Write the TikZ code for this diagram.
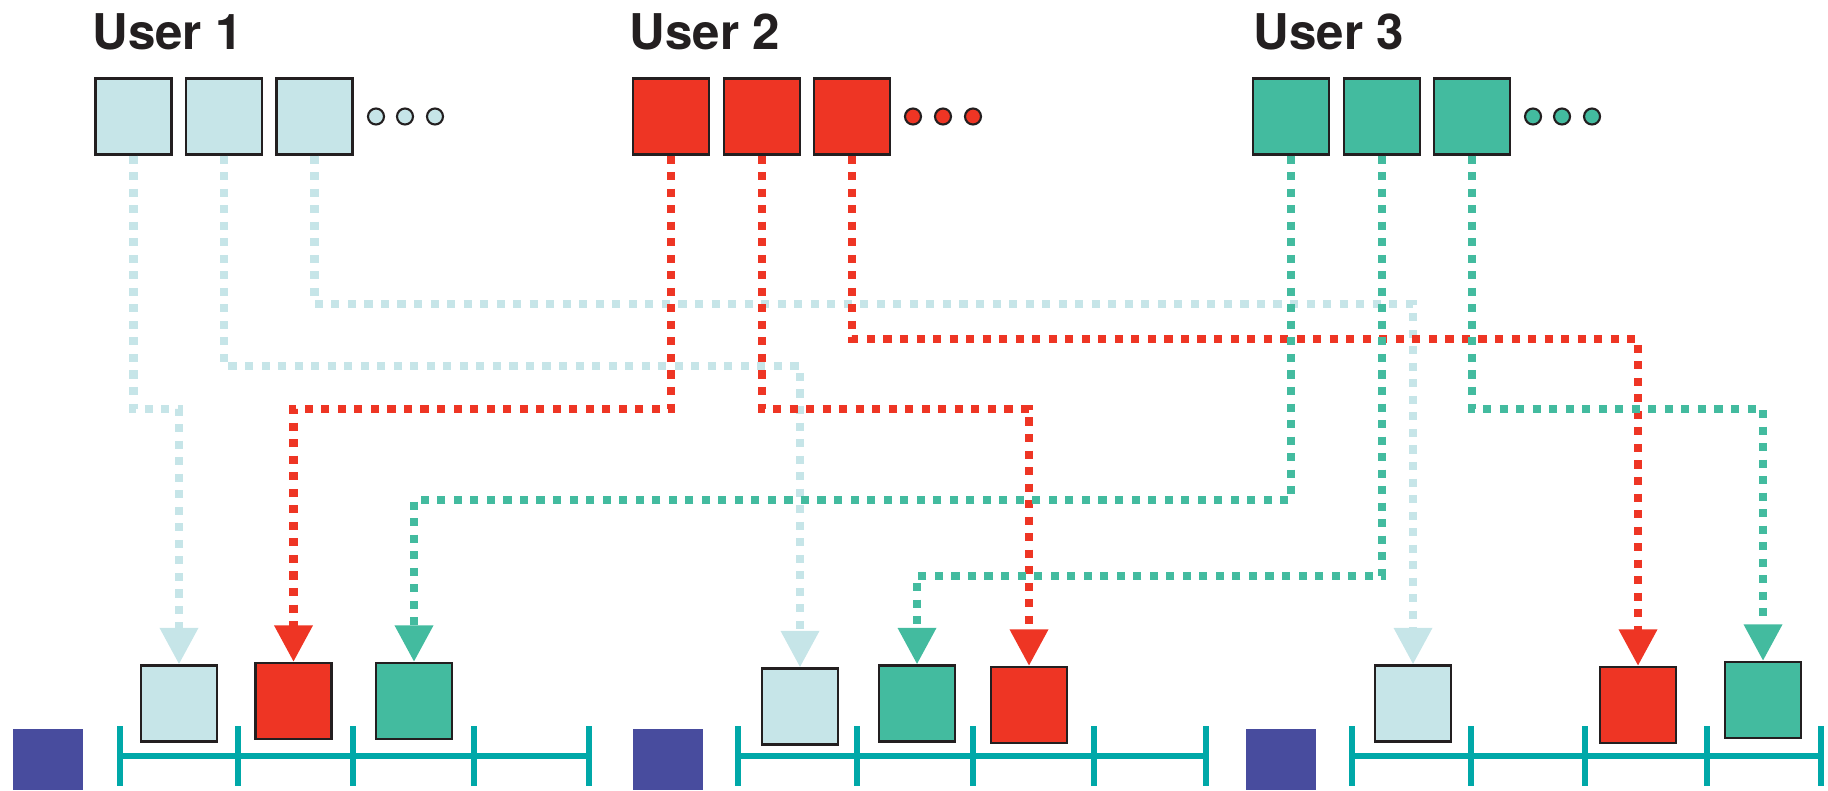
\documentclass[tikz,border=0pt]{standalone}
\usepackage{fontspec}
\setmainfont{TeX Gyre Heros}
\usepackage{tikz}
\usetikzlibrary{arrows.meta, positioning}
\definecolor{lblue}{HTML}{C6E5E8}
\definecolor{ured}{HTML}{EE3524}
\definecolor{ugreen}{HTML}{43BB9F}
\definecolor{slotpurple}{HTML}{484C9E}
\definecolor{lineteal}{HTML}{00A8A8}
\definecolor{edgegray}{HTML}{231F20}

\begin{document}
\begin{tikzpicture}[x=0.01cm, y=-0.01cm,
  usrbox/.style={draw=edgegray, line width=0.6pt, minimum size=0.76cm, inner sep=0pt},
  moredot/.style={draw=edgegray, line width=0.6pt, circle, minimum size=0.16cm, inner sep=0pt},
  lbl/.style={anchor=base west, inner sep=0pt, font=\fontsize{14}{16}\selectfont\bfseries, text=edgegray},
  flow/.style={line width=2.3pt, dash pattern=on 2.3pt off 2.4pt, -{Triangle[width=10.4pt,length=10.4pt]}},
  tline/.style={lineteal, line width=1.55pt}]
\useasboundingbox (0,0) rectangle (1828,790);

% timelines and slot markers
\foreach \x in {13, 633, 1246} \fill[slotpurple] (\x,729) rectangle ++(70,61);
\draw[tline] (120,756) -- (589,756);
\draw[tline] (738,756) -- (1206,756);
\draw[tline] (1352,756) -- (1821,756);
\foreach \x in {120, 238, 353, 474, 589, 738, 857, 973, 1094, 1206, 1352, 1471, 1585, 1707, 1821}
  \draw[tline] (\x,726) -- (\x,786);

% users
\node[lbl] (t1) at (92,49) {User 1};
\node[lbl] (t2) at (629,49) {User 2};
\node[lbl] (t3) at (1253,49) {User 3};

\node[usrbox, fill=lblue] (u1a) at (133.5,116.5) {};
\node[usrbox, fill=lblue] (u1b) at (224,116.5) {};
\node[usrbox, fill=lblue] (u1c) at (314.5,116.5) {};
\node[moredot, fill=lblue] (u1d1) at (376,116.5) {};
\node[moredot, fill=lblue] (u1d2) at (405,116.5) {};
\node[moredot, fill=lblue] (u1d3) at (435,116.5) {};

\node[usrbox, fill=ured] (u2a) at (671,116.5) {};
\node[usrbox, fill=ured] (u2b) at (762,116.5) {};
\node[usrbox, fill=ured] (u2c) at (852,116.5) {};
\node[moredot, fill=ured] (u2d1) at (913,116.5) {};
\node[moredot, fill=ured] (u2d2) at (943,116.5) {};
\node[moredot, fill=ured] (u2d3) at (973,116.5) {};

\node[usrbox, fill=ugreen] (u3a) at (1291,116.5) {};
\node[usrbox, fill=ugreen] (u3b) at (1382,116.5) {};
\node[usrbox, fill=ugreen] (u3c) at (1472,116.5) {};
\node[moredot, fill=ugreen] (u3d1) at (1533,116.5) {};
\node[moredot, fill=ugreen] (u3d2) at (1562,116.5) {};
\node[moredot, fill=ugreen] (u3d3) at (1592,116.5) {};

% slots
\node[usrbox, fill=lblue] (s1) at (179,703.5) {};
\node[usrbox, fill=ured] (s2) at (293.5,701) {};
\node[usrbox, fill=ugreen] (s3) at (414,701) {};
\node[usrbox, fill=lblue] (s4) at (800,706.5) {};
\node[usrbox, fill=ugreen] (s5) at (917,703.5) {};
\node[usrbox, fill=ured] (s6) at (1029,705) {};
\node[usrbox, fill=lblue] (s7) at (1413,703.5) {};
\node[usrbox, fill=ured] (s8) at (1638,705) {};
\node[usrbox, fill=ugreen] (s9) at (1763,700) {};

% mapping
\draw[flow, lblue] (u1a.south) -- (u1a.south |- 0,409) -| (s1.north);
\draw[flow, lblue] (u1b.south) -- (u1b.south |- 0,366) -| (s4.north);
\draw[flow, lblue] (u1c.south) -- (u1c.south |- 0,304) -| (s7.north);
\draw[flow, ured] (u2a.south) -- (u2a.south |- 0,409) -| (s2.north);
\draw[flow, ured] (u2b.south) -- (u2b.south |- 0,409) -| (s6.north);
\draw[flow, ured] (u2c.south) -- (u2c.south |- 0,339) -| (s8.north);
\draw[flow, ugreen] (u3a.south) -- (u3a.south |- 0,500) -| (s3.north);
\draw[flow, ugreen] (u3b.south) -- (u3b.south |- 0,576) -| (s5.north);
\draw[flow, ugreen] (u3c.south) -- (u3c.south |- 0,409) -| (s9.north);
\end{tikzpicture}
\end{document}
